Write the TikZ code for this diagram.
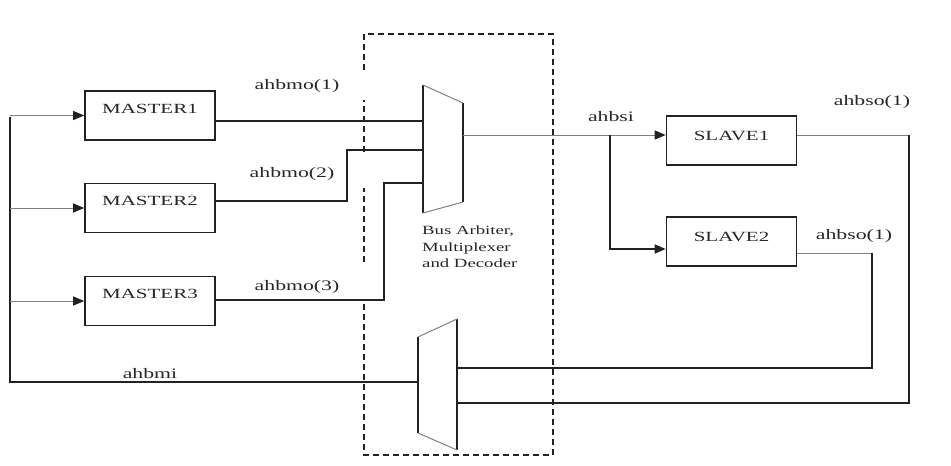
\documentclass[tikz,border=0pt]{standalone}
\usepackage{fontspec}
\setmainfont{Liberation Serif}[FakeStretch=1.5]
\usetikzlibrary{arrows.meta,calc}
\definecolor{ink}{HTML}{222222}
\definecolor{thinc}{HTML}{808080}
\definecolor{txt}{HTML}{262626}
\begin{document}
\begin{tikzpicture}[x=1pt,y=-1pt,
  box/.style={draw=ink,line width=1.6pt,minimum width=130pt,minimum height=49pt,inner sep=0pt,
    font=\fontsize{14}{16}\selectfont,text=txt,text height=10pt,text depth=15pt},
  sbox/.style={box,text depth=11pt},
  wire/.style={draw=ink,line width=1.6pt},
  lite/.style={draw=thinc,line width=1pt},
  arr/.style={-{Triangle[length=11pt,width=9pt,color=ink]}},
  lbl/.style={font=\fontsize{14.5}{16}\selectfont,text=txt,inner sep=0pt},
  dbox/.style={draw=ink,line width=1.5pt,dash pattern=on 6pt off 4pt}]
\useasboundingbox (0,0) rectangle (951,466);

% boxes
\node[box] (m1) at (150,115.5) {MASTER1};
\node[box] (m2) at (150,208) {MASTER2};
\node[box] (m3) at (150,301) {MASTER3};
\node[sbox] (s1) at (731.5,140.5) {SLAVE1};
\node[sbox] (s2) at (731.5,241.5) {SLAVE2};

% dashed arbiter box
\draw[dbox] (364,70) -- (364,34) -- (553,34) -- (553,455) -- (364,455) -- (364,302)
  (364,262) -- (364,188) (364,152) -- (364,100);

% top mux
\coordinate (ta) at (423,85);
\coordinate (tb) at (463,103);
\coordinate (tc) at (463,202);
\coordinate (td) at (423,213);
\draw[wire] (ta) -- (td) (tb) -- (tc);
\draw[lite] (ta) -- (tb) (td) -- (tc);
\coordinate (tm1) at (423,121);
\coordinate (tm2) at (423,150);
\coordinate (tm3) at (423,183);
\coordinate (tmo) at (463,135);

% bottom mux
\coordinate (ba) at (418,337);
\coordinate (bb) at (457,319);
\coordinate (bc) at (457,450);
\coordinate (bd) at (418,433);
\draw[wire] (ba) -- (bd) (bb) -- (bc);
\draw[lite] (ba) -- (bb) (bd) -- (bc);
\coordinate (bmi) at (418,382);
\coordinate (bmo1) at (457,368);
\coordinate (bmo2) at (457,403);

% left return bus
\coordinate (lt) at (10,117);
\coordinate (lb) at (10,382);
\draw[wire] (bmi) -- (lb) -- (lt);
\draw[lite,arr] (lt |- m1) -- (m1.west);
\draw[lite,arr] (lt |- m2) -- (m2.west);
\draw[lite,arr] (lt |- m3) -- (m3.west);

% master outputs
\coordinate (k2) at (347,201);
\coordinate (k3) at (384,300);
\draw[wire] (m1.east |- tm1) -- (tm1);
\draw[wire] (m2.east |- k2) -- (k2) |- (tm2);
\draw[wire] (m3.east |- k3) -- (k3) |- (tm3);

% to slaves
\coordinate (br) at (610,135);
\coordinate (b2) at (610,249);
\draw[lite,arr] (tmo) -- (s1.west |- tmo);
\draw[wire,arr] (br) -- (b2) -- (s2.west |- b2);

% slave outputs
\coordinate (r1) at (909,135);
\coordinate (r1b) at (909,403);
\coordinate (r2) at (872,253);
\coordinate (r2b) at (872,368);
\draw[lite] (s1.east |- r1) -- (r1);
\draw[wire] (r1) -- (r1b) -- (bmo2);
\draw[lite] (s2.east |- r2) -- (r2);
\draw[wire] (r2) -- (r2b) -- (bmo1);

% labels
\node[lbl] (l1) at (297,86) {ahbmo(1)};
\node[lbl] (l2) at (292,174) {ahbmo(2)};
\node[lbl] (l3) at (297,287) {ahbmo(3)};
\node[lbl] (l4) at (150,374) {ahbmi};
\node[lbl] (l5) at (611,117) {ahbsi};
\node[lbl] (l6) at (872,102) {ahbso(1)};
\node[lbl] (l7) at (854,236) {ahbso(1)};
\node[anchor=north west,align=left,inner sep=0pt,text=txt,
  font=\fontsize{12.5}{16.5}\selectfont] (bt) at (422,226) {Bus Arbiter,\\Multiplexer\\and Decoder};
\end{tikzpicture}
\end{document}
